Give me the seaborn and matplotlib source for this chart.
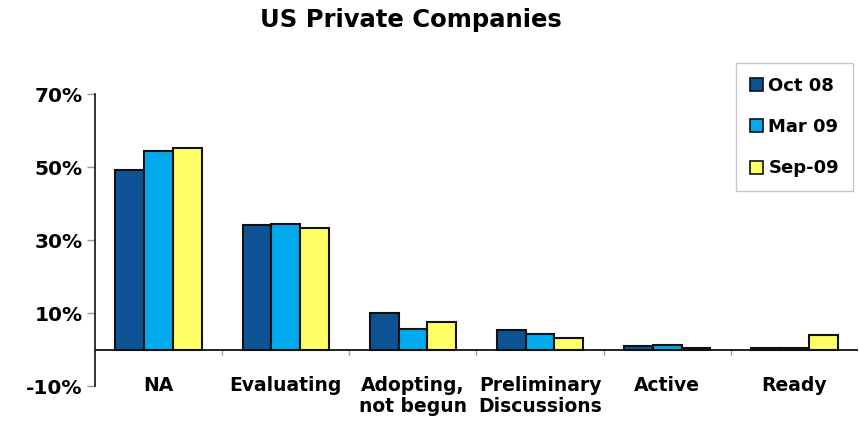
import matplotlib
matplotlib.use("Agg")
import matplotlib.pyplot as plt
import matplotlib.transforms as mtransforms
from matplotlib.patches import Patch
import seaborn as sns
import pandas as pd

categories = ["NA", "Evaluating", "Adopting,\nnot begun", "Preliminary\nDiscussions", "Active", "Ready"]
series_names = ["Oct 08", "Mar 09", "Sep-09"]
oct08 = [49.3, 34.1, 10.1, 5.3, 1.0, 0.4]
mar09 = [54.5, 34.4, 5.7, 4.3, 1.15, 0.4]
sep09 = [55.4, 33.3, 7.5, 3.2, 0.5, 4.1]
yticks = [-10, 10, 30, 50, 70]
colors = ["#0D5394", "#00AAEC", "#FFFF66"]

rows = []
for name, vals in zip(series_names, [oct08, mar09, sep09]):
    for c, v in zip(categories, vals):
        rows.append({"Category": c, "Series": name, "Value": v})
df = pd.DataFrame(rows)

sns.set_theme(style="white")
plt.rcParams["font.family"] = ["DejaVu Sans"]
plt.rcParams["font.weight"] = "bold"
plt.rcParams["text.color"] = "black"
plt.rcParams["xtick.labelcolor"] = "black"
plt.rcParams["ytick.labelcolor"] = "black"

fig = plt.figure(figsize=(8.6, 4.25), dpi=100)
ax = fig.add_axes([95 / 860, 1 - 386 / 425, (858 - 95) / 860, (386 - 94.3) / 425])

sns.barplot(data=df, x="Category", y="Value", hue="Series", order=categories,
            hue_order=series_names, palette=colors, width=0.68, gap=0,
            edgecolor="#111111", linewidth=1.5, saturation=1, ax=ax, legend=False)

ax.set_ylim(-10, 70)
ax.set_xlim(-0.5, len(categories) - 0.5)
ax.set_yticks(yticks)
ax.set_yticklabels([f"{t}%" for t in yticks], fontsize=14.5, fontweight="bold", color="black")
ax.set_xticks(range(len(categories)))
ax.set_xticklabels(categories, fontsize=13.5, fontweight="bold", linespacing=1.1, color="black")
ax.tick_params(axis="x", length=0, pad=-7)
ax.tick_params(axis="y", length=6, width=1, color="#999999", left=True, direction="out", pad=3)
ax.set_xlabel("")
ax.set_ylabel("")
for s in ["top", "right", "bottom"]:
    ax.spines[s].set_visible(False)
ax.spines["left"].set_color("#111111")
ax.spines["left"].set_linewidth(1.2)

ax.axhline(0, color="#111111", lw=1.3, zorder=3)
trans = mtransforms.blended_transform_factory(ax.transData, ax.transData)
for b in [i + 0.5 for i in range(len(categories) - 1)]:
    ax.plot([b, b], [0, -1.6], color="#aaaaaa", lw=1, transform=trans, clip_on=False)

handles = [Patch(facecolor=c, edgecolor="#111111", linewidth=1.2) for c in colors]
leg = fig.legend(handles, series_names, loc="upper left",
                 bbox_to_anchor=(736 / 860, 1 - 63 / 425), frameon=True,
                 fancybox=False, edgecolor="#bbbbbb",
                 prop={"weight": "bold", "size": 13},
                 handlelength=0.75, handleheight=0.75, handletextpad=0.3,
                 labelspacing=1.3, borderpad=0.75, borderaxespad=0)
leg.get_frame().set_linewidth(1)
for t in leg.get_texts():
    t.set_color("black")

fig.text(411 / 860, 1 - 20 / 425, "US Private Companies", ha="center", va="center",
         fontsize=17.5, fontweight="bold", color="black")

fig.savefig("out.png", dpi=100)
